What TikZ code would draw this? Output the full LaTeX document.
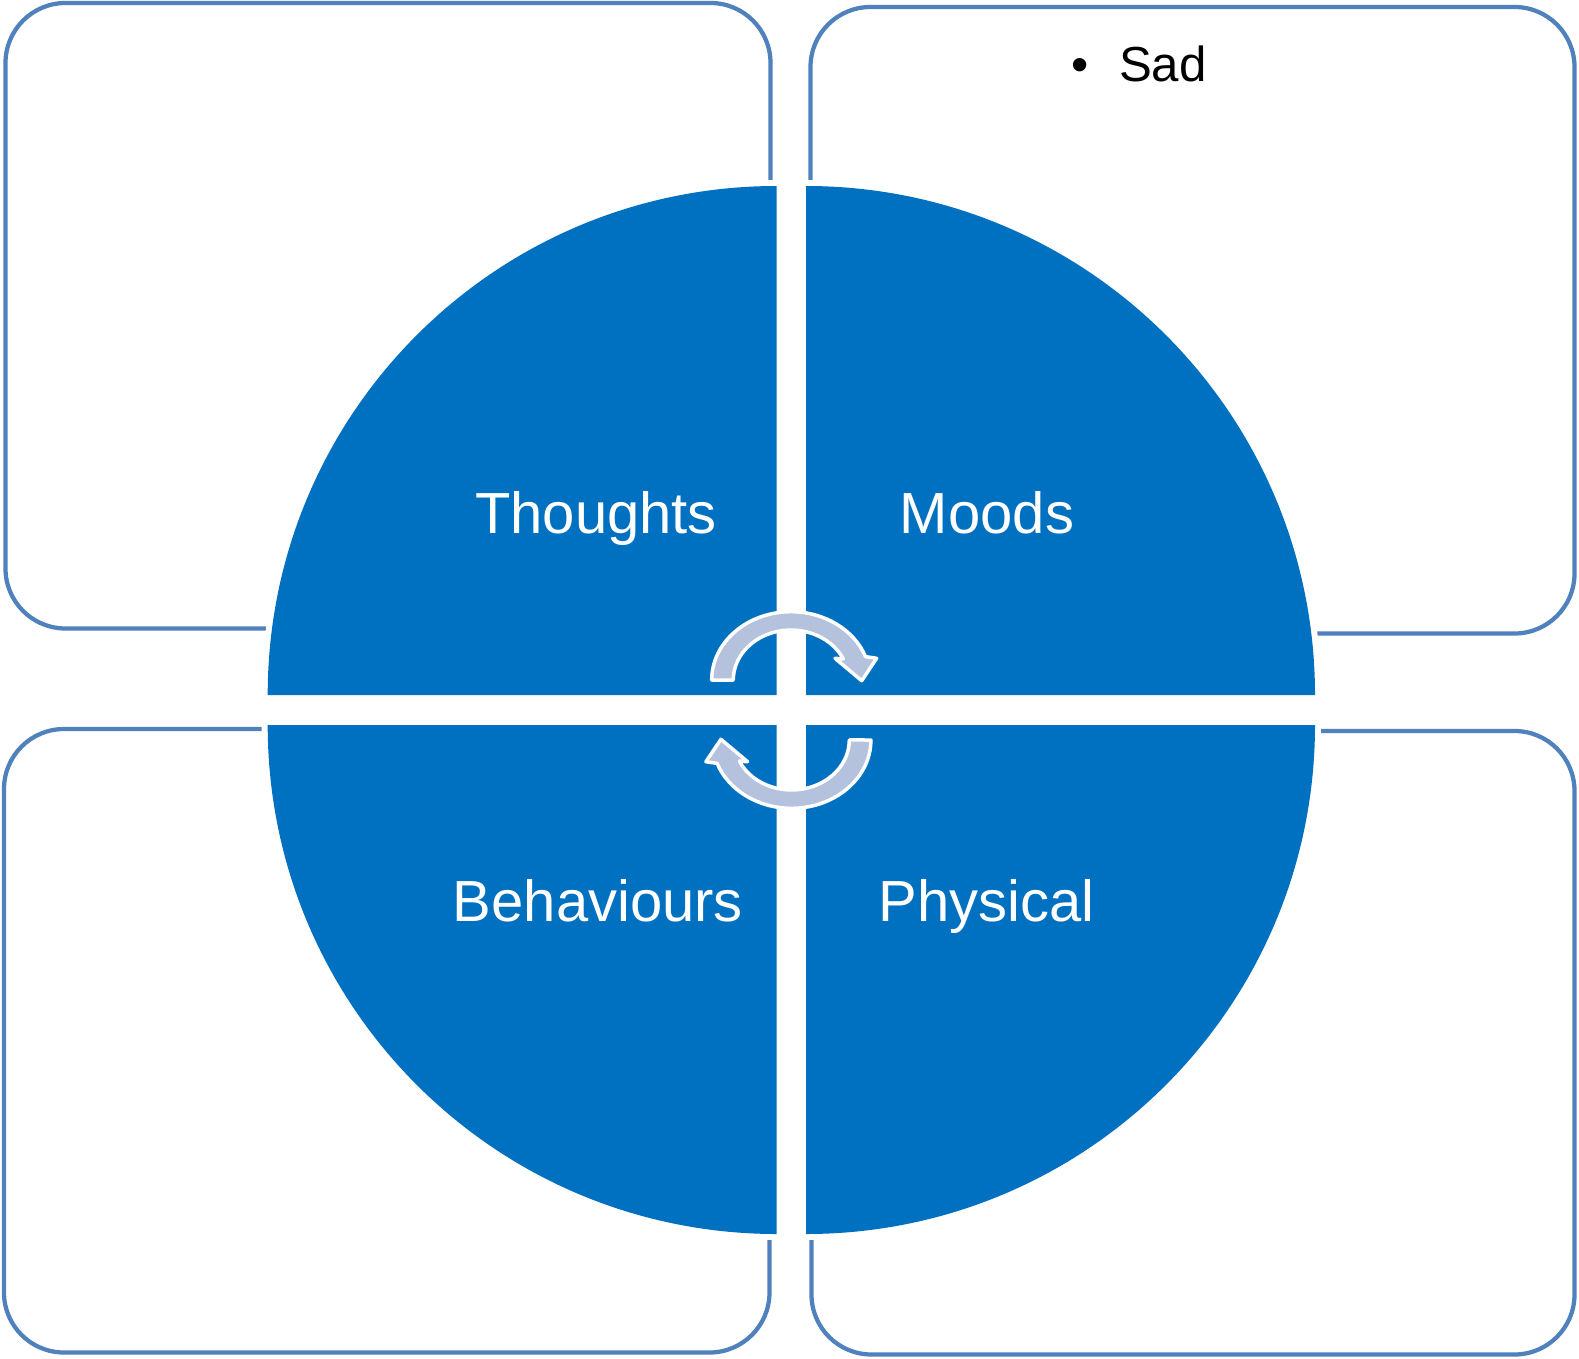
\documentclass[tikz,border=0pt]{standalone}
\usepackage{fontspec}
\setmainfont{Liberation Sans}
\definecolor{quadblue}{HTML}{0070C0}
\definecolor{boxline}{HTML}{4F81BD}
\definecolor{arrowfill}{HTML}{B4C2DD}
\begin{document}
\begin{tikzpicture}[x=0.02cm,y=-0.02cm,
  box/.style={draw=boxline, line width=0.085cm, rounded corners=1.2cm},
  quad/.style={fill=quadblue, preaction={draw=white, line width=0.24cm}},
  qlabel/.style={text=white, font=\fontsize{33}{40}\selectfont, anchor=base, inner sep=0pt},
  cyc/.style={fill=arrowfill, draw=white, line width=0.07cm, line join=round}]
\fill[white] (0,0) rectangle (1579,1359);
\useasboundingbox (0,0) rectangle (1579,1359);
% boxes
\draw[box] (5.5,3) rectangle (770.5,628.5);
\draw[box] (810.5,7) rectangle (1574.5,633.5);
\draw[box] (4,729) rectangle (769.5,1352.5);
\draw[box] (811.5,731) rectangle (1574.5,1354.5);
% quadrants
\path[quad] (776.7,695) -- (267.7,695) arc[start angle=180, end angle=270, radius=509] -- cycle;
\path[quad] (806,695) -- (806,186) arc[start angle=270, end angle=360, radius=509] -- cycle;
\path[quad] (776.7,725) -- (267.7,725) arc[start angle=180, end angle=90, radius=509] -- cycle;
\path[quad] (806,725) -- (1315,725) arc[start angle=0, end angle=90, radius=509] -- cycle;
% labels
\node[qlabel] (thoughts) at (596,533.7) {Thoughts};
\node[qlabel] (moods) at (987,533.7) {Moods};
\node[qlabel] (behaviours) at (598,921.4) {Behaviours};
\node[qlabel] (physical) at (986.4,921.4) {Physical};
\node[anchor=base west, inner sep=0pt, font=\fontsize{28}{34}\selectfont] (sad) at (1071,81.6) {•\hspace{0.61cm}Sad};
% circular arrows
\path[cyc] (711.7,680) arc[start angle=180, end angle=340, x radius=79.3, y radius=68.3]
  -- (876.7,658.3) -- (861.7,680.7) -- (835,658.3) -- (843.3,658.9)
  arc[start angle=335, end angle=180, x radius=57.7, y radius=50] -- cycle;
\path[cyc, rotate around={180:(791.3,710)}] (711.7,680) arc[start angle=180, end angle=340, x radius=79.3, y radius=68.3]
  -- (876.7,658.3) -- (861.7,680.7) -- (835,658.3) -- (843.3,658.9)
  arc[start angle=335, end angle=180, x radius=57.7, y radius=50] -- cycle;
\end{tikzpicture}
\end{document}
